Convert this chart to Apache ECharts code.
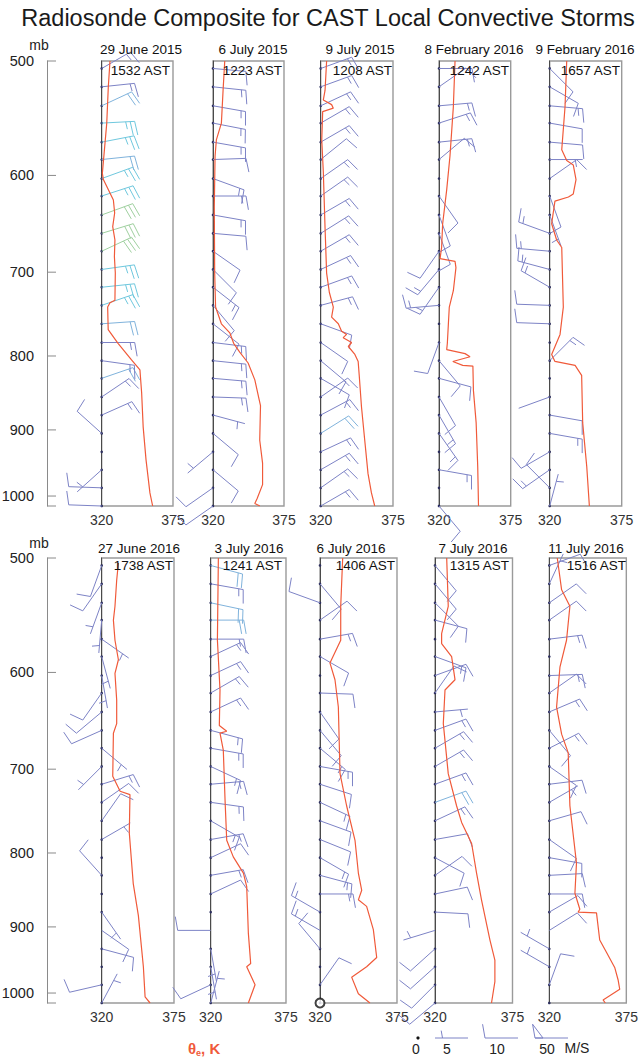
<!DOCTYPE html>
<html>
<head>
<meta charset="utf-8">
<title>Radiosonde Composite for CAST Local Convective Storms</title>
<script src="https://cdn.jsdelivr.net/npm/echarts@6/dist/echarts.min.js"></script>
<style>
  html, body { margin: 0; padding: 0; background: #fff; }
  #chart { width: 641px; height: 1059px; }
</style>
</head>
<body>
<div id="chart"></div>
<script>
// pressure levels of the wind barbs (surface -> top), mb
const barbLevels = [1016, 987, 959, 932, 905, 879, 854, 829, 806, 783, 760, 738, 717, 697, 677, 658, 639, 620, 603, 585, 569, 552, 537, 521, 506];
const pressureTicks = [500, 600, 700, 800, 900, 1000];
const pressureTop = 500;
const pressureBottom = 1016;
const thetaMin = 320;
const thetaMax = 375;

const panelDates = ['29 June 2015', '6 July 2015', '9 July 2015', '8 February 2016', '9 February 2016',
  '27 June 2016', '3 July 2016', '6 July 2016', '7 July 2016', '11 July 2016'];
const panelTimes = ['1532 AST', '1223 AST', '1208 AST', '1242 AST', '1657 AST',
  '1738 AST', '1241 AST', '1406 AST', '1315 AST', '1516 AST'];

// theta-e profiles [K, mb]
const theta20150629 = [[326.4,500],[325.1,521],[323.9,552],[320.5,598],[321.3,604],[329,624],[330,637],[328.5,651],[330.2,665],[329.8,683],[330.5,701],[330.2,732],[326.4,735],[324.6,740],[325,767],[332.6,784],[343,805],[349.5,818],[350.8,848],[352,896],[354.2,944],[357.2,995],[359.3,1016]];
const theta20150706 = [[329.1,500],[327.8,524],[326.5,552],[322.6,567],[321.6,582],[321,631],[321.3,701],[322,740],[326.5,760],[333,771],[336,784],[340.7,795],[347.2,809],[352.4,831],[355.8,858],[356.8,866],[356.2,915],[358.4,949],[358.4,982],[354.2,1004],[352.4,1012],[356.3,1016]];
const theta20150709 = [[324.5,500],[323.3,524],[322,532],[328.3,536],[329.6,539],[321.5,542],[320.8,567],[322,597],[323.3,652],[324.5,701],[326.6,723],[329.6,740],[328.3,752],[333.4,760],[335.9,769],[339.7,773],[337.1,777],[343.5,783],[341,788],[346,798],[348.5,807],[349.3,825],[351,867],[353.5,915],[356,965],[358.6,995],[361.1,1016]];
const theta20160208 = [[332.3,500],[331,538],[328.4,582],[325.9,614],[322.8,648],[322,673],[320.8,685],[332.3,688],[333,695],[331,721],[327.9,740],[327.2,760],[326.4,784],[325.9,792],[340,797],[343.8,801],[330.6,807],[338.2,812],[346,813],[346.4,845],[348.5,890],[349.7,954],[350.3,1016]];
const theta20160209 = [[333,500],[331.7,538],[329.2,576],[333,586],[338,590],[340.1,604],[338,618],[334.3,621],[324,625],[321.5,648],[325.3,665],[329.2,673],[330.4,740],[327.9,773],[321.5,798],[324,807],[339.4,812],[344.4,825],[345.2,890],[348.3,954],[350.3,1016]];
const theta20160627 = [[332.7,504],[331.4,518],[330.1,540],[328.9,552],[330.1,570],[332.7,588],[330.1,601],[331.4,627],[331.4,651],[328.9,661],[328.4,708],[334,725],[341.5,729],[341,775],[344,840],[347.9,884],[351.7,959],[353,1006],[356.8,1016]];
const theta20160703 = [[325.6,500],[324.9,570],[326.8,617],[326.3,653],[331.7,659],[326.8,661],[329.2,679],[330.5,736],[331.7,784],[336.5,805],[343.9,826],[346.3,844],[347.5,909],[349.2,954],[346.3,959],[352.4,987],[347.5,1016]];
const theta20160706 = [[336.2,500],[334.8,540],[334.8,570],[327.1,591],[330.7,607],[333.1,634],[334.3,705],[339,742],[345,784],[347.4,826],[349.8,849],[347.4,862],[353.3,871],[358.1,904],[360.5,945],[353.3,959],[342.6,975],[347.4,1001],[355.7,1016]];
const theta20160707 = [[328.3,500],[329.4,540],[324.7,564],[324.7,573],[331.8,585],[334.2,607],[327.1,617],[325.9,651],[329.4,705],[335.3,742],[338.9,762],[346,788],[349.5,826],[353,862],[359,919],[362.5,949],[362.5,982],[360.1,1016]];
const theta20160711 = [[325.7,500],[328.8,526],[334.7,540],[332.3,570],[327.6,595],[325.2,634],[328.8,662],[333.5,682],[334.7,742],[339.4,813],[338.3,853],[341.8,875],[340.6,879],[353.7,880],[356,919],[360.8,937],[366.7,960],[369.1,979],[370.3,994],[358.4,1011],[360,1016]];

// wind direction (deg, from) and speed (m/s) at barbLevels
const dir20150629 = [272, 272, 228, 0, 312, 66, 56, 71, 98, 90, 86, 71, 84, 82, 65, 73, 70, 72, 70, 84, 79, 87, 65, 84, 60];
const spd20150629 = [10, 10, 5, 0, 10, 15, 15, 20, 15, 15, 20, 25, 25, 25, 30, 30, 30, 25, 25, 20, 25, 25, 20, 15, 15];
const dir20150706 = [235, 235, 130, 230, 130, 105, 92, 95, 96, 97, 128, 140, 128, 135, 125, 95, 100, 90, 110, 88, 100, 101, 100, 96, 95];
const spd20150706 = [10, 10, 10, 5, 10, 5, 15, 15, 15, 15, 10, 10, 15, 10, 10, 10, 15, 15, 15, 10, 15, 15, 15, 15, 10];
const dir20150709 = [60, 55, 60, 65, 58, 62, 55, 120, 130, 125, 110, 75, 70, 65, 60, 58, 60, 55, 55, 51, 60, 60, 65, 70, 70];
const spd20150709 = [15, 15, 15, 15, 20, 15, 15, 10, 10, 10, 10, 15, 15, 15, 15, 15, 15, 15, 15, 10, 15, 15, 15, 15, 15];
const dir20160208 = [140, 0, 100, 0, 145, 150, 150, 105, 140, 200, 0, 265, 215, 220, 215, 160, 160, 145, 0, 50, 84, 72, 85, 55, 90];
const spd20160208 = [10, 0, 15, 0, 15, 15, 10, 10, 10, 10, 0, 15, 15, 15, 10, 10, 10, 10, 0, 10, 15, 15, 15, 10, 10];
const dir20160209 = [15, 315, 235, 240, 100, 100, 250, 0, 45, 0, 272, 272, 300, 285, 275, 290, 160, 160, 55, 90, 95, 100, 95, 120, 135];
const spd20160209 = [5, 10, 15, 10, 15, 10, 2, 0, 15, 0, 10, 10, 15, 15, 15, 15, 5, 10, 10, 5, 10, 10, 15, 10, 10];
const dir20160627 = [28, 257, 0, 105, 125, 145, 0, 318, 0, 60, 35, 55, 73, 225, 130, 246, 230, 215, 170, 165, 125, 185, 200, 215, 200];
const spd20160627 = [5, 10, 0, 10, 10, 5, 0, 10, 0, 5, 10, 10, 15, 5, 5, 10, 10, 10, 5, 5, 5, 5, 5, 10, 10];
const dir20160703 = [15, 245, 170, 170, 270, 0, 65, 80, 65, 80, 120, 98, 85, 115, 100, 105, 65, 60, 65, 65, 90, 90, 102, 100, 105];
const spd20160703 = [5, 10, 5, 5, 10, 0, 10, 15, 10, 15, 15, 15, 15, 15, 15, 15, 15, 15, 15, 15, 15, 20, 20, 15, 20];
const dir20160706 = [0, 35, 0, 320, 300, 300, 90, 105, 120, 112, 110, 115, 108, 100, 130, 140, 145, 92, 0, 120, 80, 55, 290, 140, 0];
const spd20160706 = [0, 10, 0, 10, 15, 15, 15, 15, 15, 10, 10, 15, 10, 15, 15, 10, 10, 10, 0, 10, 15, 10, 10, 10, 0];
const dir20160707 = [230, 225, 228, 228, 253, 93, 78, 55, 118, 80, 65, 70, 70, 60, 60, 70, 85, 35, 70, 110, 0, 105, 135, 140, 140];
const spd20160707 = [10, 10, 10, 10, 5, 10, 10, 10, 10, 10, 15, 20, 15, 15, 15, 15, 5, 10, 10, 15, 0, 10, 10, 10, 10];
const dir20160711 = [0, 20, 300, 300, 58, 60, 90, 87, 100, 125, 74, 60, 83, 125, 63, 140, 67, 55, 88, 0, 83, 55, 55, 25, 70];
const spd20160711 = [0, 10, 5, 5, 10, 10, 10, 10, 10, 10, 10, 5, 10, 10, 15, 10, 15, 10, 15, 0, 15, 10, 10, 5, 10];

// calm report at the surface, 6 July 2016
const calm20160706 = [[320, 1016]];

const legendSpeeds = [0, 5, 10, 50];

const panelTheta = [theta20150629, theta20150706, theta20150709, theta20160208, theta20160209,
  theta20160627, theta20160703, theta20160706, theta20160707, theta20160711];
const panelDir = [dir20150629, dir20150706, dir20150709, dir20160208, dir20160209,
  dir20160627, dir20160703, dir20160706, dir20160707, dir20160711];
const panelSpd = [spd20150629, spd20150706, spd20150709, spd20160208, spd20160209,
  spd20160627, spd20160703, spd20160706, spd20160707, spd20160711];

// layout (px)
const FONT = "'Liberation Sans', Arial, sans-serif";
const boxes = [
  [101.7, 173], [213, 284], [320.7, 393], [439, 510.7], [549.7, 621.7],
  [101.7, 174], [210.7, 286], [320, 397], [435, 512.5], [549.3, 626.7]
];
const rowTop = [61, 558];
const plotH = 445;
const dateX = [141, 253, 360, 474, 585, 139, 249, 351, 473, 586];
const timeX = [170, 282, 392, 509, 620, 173, 282, 395, 509, 626];

const STAFF = 33, FULL = 14, HALF = 7.5, GAP = 4.5;
const FEATHER_ANGLE = 80 * Math.PI / 180;

function barbColor(s) {
  if (s >= 30) return '#9fd09f';
  if (s >= 25) return '#6fc8de';
  if (s >= 20) return '#80b3dc';
  return '#7d83c6';
}

function seg(a, b, color) {
  return { type: 'line', shape: { x1: a[0], y1: a[1], x2: b[0], y2: b[1] }, style: { stroke: color, lineWidth: 1 } };
}

function barbRenderer(fixedColor, withLabel) {
  return function (params, api) {
    const pt = api.coord([api.value(0), api.value(1)]);
    const dir = api.value(2) * Math.PI / 180;
    const spd = api.value(3);
    const color = fixedColor || barbColor(spd);
    const kids = [];
    if (!withLabel || spd === 0) {
      kids.push({ type: 'circle', shape: { cx: pt[0], cy: pt[1], r: withLabel ? 1.6 : 1.3 }, style: { fill: withLabel ? '#111' : '#2d2f5e' } });
    }
    if (spd > 0) {
      const ux = Math.sin(dir), uy = -Math.cos(dir);
      const a = Math.atan2(uy, ux) + FEATHER_ANGLE;
      const fx = Math.cos(a), fy = Math.sin(a);
      const at = d => [pt[0] + ux * d, pt[1] + uy * d];
      kids.push(seg(pt, at(STAFF), color));
      let rest = spd, d = STAFF;
      while (rest >= 50) {
        const b0 = at(d), b1 = at(d - 8);
        kids.push({ type: 'polygon', shape: { points: [b0, [b0[0] + fx * FULL, b0[1] + fy * FULL], b1] },
          style: { fill: 'none', stroke: color, lineWidth: 1 } });
        d -= 10; rest -= 50;
      }
      while (rest >= 10) {
        const b = at(d);
        kids.push(seg(b, [b[0] + fx * FULL, b[1] + fy * FULL], color));
        d -= GAP; rest -= 10;
      }
      if (rest >= 5) {
        if (d === STAFF) d -= GAP + 3;
        const b = at(d);
        kids.push(seg(b, [b[0] + fx * HALF, b[1] + fy * HALF], color));
      }
    }
    if (withLabel) {
      kids.push({ type: 'text', style: { text: String(spd), x: pt[0] + (spd > 0 ? -21 : -2), y: pt[1] + 11,
        align: 'center', verticalAlign: 'middle', fontSize: 14, fontFamily: FONT, fill: '#222' } });
    }
    return { type: 'group', children: kids };
  };
}

function renderPressureAxis(params, api) {
  const pt = api.coord([0, api.value(1)]);
  const kids = [seg(pt, [pt[0] + 9, pt[1]], '#8a8a8a')];
  if (api.value(2)) {
    kids.push({ type: 'text', style: { text: String(api.value(1)), x: pt[0] - 13, y: pt[1],
      align: 'right', verticalAlign: 'middle', fontSize: 14.5, fontFamily: FONT, fill: '#222' } });
  }
  return { type: 'group', children: kids };
}

const grid = [], xAxis = [], yAxis = [], series = [];
const title = [{
  text: 'Radiosonde Composite for CAST Local Convective Storms',
  left: 328, top: 6, textAlign: 'center', padding: 0,
  textStyle: { fontSize: 23.5, fontWeight: 'normal', color: '#1a1a1a', fontFamily: FONT }
}];

const logY = (i, showLine) => ({
  gridIndex: i, type: 'log', logBase: 10, min: pressureTop, max: pressureBottom, inverse: true,
  axisLine: { show: showLine, lineStyle: { color: i >= 10 ? '#8a8a8a' : '#4a4a4a', width: 1 } },
  axisTick: { show: false }, axisLabel: { show: false }, splitLine: { show: false }
});

panelTheta.forEach((theta, i) => {
  const row = i < 5 ? 0 : 1;
  const [x0, x1] = boxes[i];
  grid.push({ left: x0, top: rowTop[row], width: x1 - x0, height: plotH, show: true,
    borderColor: '#9a9a9a', borderWidth: 1.4, backgroundColor: 'transparent' });
  xAxis.push({ gridIndex: i, type: 'value', min: thetaMin, max: thetaMax, interval: thetaMax - thetaMin,
    axisLine: { show: false }, axisTick: { show: false }, splitLine: { show: false },
    axisLabel: { color: '#333', fontSize: 14, margin: 7, fontFamily: FONT, showMinLabel: true, showMaxLabel: true } });
  yAxis.push(logY(i, true));
  series.push({
    type: 'custom', xAxisIndex: i, yAxisIndex: i, z: 2, silent: true,
    renderItem: barbRenderer(null, false),
    data: barbLevels.map((p, k) => [thetaMin, p, panelDir[i][k], panelSpd[i][k]])
  });
  series.push({
    type: 'line', xAxisIndex: i, yAxisIndex: i, z: 3, silent: true, symbol: 'none',
    lineStyle: { color: '#f05a3a', width: 1.2 }, data: theta
  });
  title.push({ text: panelDates[i], left: dateX[i], top: row ? 541 : 42, textAlign: 'center', padding: 0,
    textStyle: { fontSize: 13.5, fontWeight: 'normal', color: '#111', fontFamily: FONT } });
  title.push({ text: panelTimes[i], left: timeX[i], top: row ? 558 : 63, textAlign: 'right', padding: 0,
    textStyle: { fontSize: 13.5, fontWeight: 'normal', color: '#111', fontFamily: FONT } });
});

series.push({
  type: 'scatter', xAxisIndex: 7, yAxisIndex: 7, z: 5, clip: false, silent: true,
  symbol: 'emptyCircle', symbolSize: 9, itemStyle: { color: '#111', borderWidth: 1.3 },
  data: calm20160706
});

// pressure axes on the left of each row
[0, 1].forEach(row => {
  const gi = 10 + row;
  grid.push({ left: 47, top: rowTop[row], width: 10, height: plotH });
  xAxis.push({ gridIndex: gi, type: 'value', min: 0, max: 1, show: false });
  yAxis.push(logY(gi, true));
  series.push({
    type: 'custom', xAxisIndex: gi, yAxisIndex: gi, silent: true, renderItem: renderPressureAxis,
    data: pressureTicks.map(p => [0, p, 1]).concat([[0, pressureBottom, 0]])
  });
  title.push({ text: 'mb', left: 39, top: row ? 536 : 38, textAlign: 'center', padding: 0,
    textStyle: { fontSize: 14, fontWeight: 'normal', color: '#222', fontFamily: FONT } });
});

// wind barb key
grid.push({ left: 393, top: 1030, width: 200, height: 16 });
xAxis.push({ gridIndex: 12, type: 'category', data: legendSpeeds.map(String), show: false });
yAxis.push({ gridIndex: 12, type: 'value', min: 0, max: 1, show: false });
series.push({
  type: 'custom', xAxisIndex: 12, yAxisIndex: 12, silent: true,
  renderItem: barbRenderer('#7d83c6', true),
  data: legendSpeeds.map((s, i) => [i, 0.5, 270, s])
});
title.push({ text: 'M/S', left: 577, top: 1041, textAlign: 'center', padding: 0,
  textStyle: { fontSize: 14, fontWeight: 'normal', color: '#222', fontFamily: FONT } });
title.push({ text: '{a|θ}{b|e}{a|, K}', left: 188, top: 1040, padding: 0,
  textStyle: { rich: {
    a: { fontSize: 15, color: '#f05a3a', fontFamily: FONT },
    b: { fontSize: 9, color: '#f05a3a', fontFamily: FONT, verticalAlign: 'bottom', padding: [8, 0, 0, 0] }
  } } });

const chart = echarts.init(document.getElementById('chart'), null, { renderer: 'svg' });
chart.setOption({ animation: false, backgroundColor: '#fff', title, grid, xAxis, yAxis, series });
</script>
</body>
</html>
